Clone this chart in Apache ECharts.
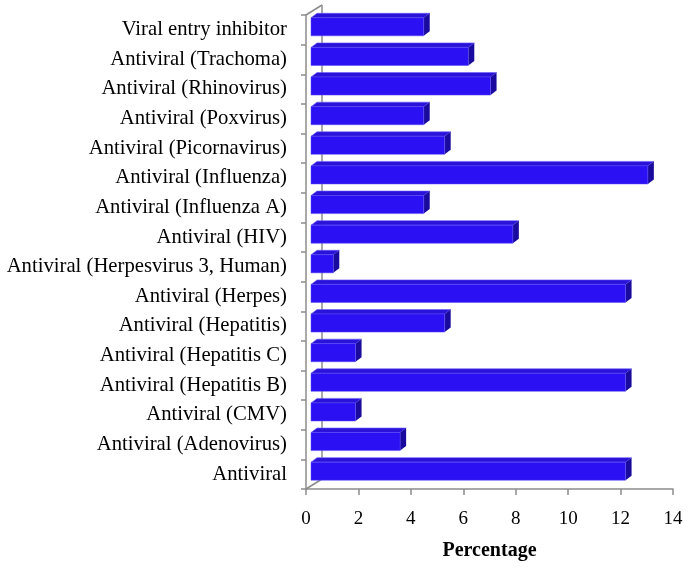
<!DOCTYPE html>
<html>
<head>
<meta charset="utf-8">
<script src="https://cdn.jsdelivr.net/npm/echarts@6/dist/echarts.min.js"></script>
<style>
  html, body { margin: 0; padding: 0; background: #fff; }
  #chart { width: 688px; height: 573px; }
</style>
</head>
<body>
<div id="chart"></div>
<script>
// categories listed bottom -> top
const categories = [
  'Antiviral',
  'Antiviral (Adenovirus)',
  'Antiviral (CMV)',
  'Antiviral (Hepatitis B)',
  'Antiviral (Hepatitis C)',
  'Antiviral (Hepatitis)',
  'Antiviral (Herpes)',
  'Antiviral (Herpesvirus 3, Human)',
  'Antiviral (HIV)',
  'Antiviral (Influenza A)',
  'Antiviral (Influenza)',
  'Antiviral (Picornavirus)',
  'Antiviral (Poxvirus)',
  'Antiviral (Rhinovirus)',
  'Antiviral (Trachoma)',
  'Viral entry inhibitor'
]
const percentages = [12.0, 3.4, 1.7, 12.0, 1.7, 5.1, 12.0, 0.85, 7.7, 4.3, 12.85, 5.1, 4.3, 6.85, 6.0, 4.3]
const xTicks = [0, 2, 4, 6, 8, 10, 12, 14]

const FONT = "'Liberation Serif', 'Times New Roman', serif"
const GRAY = '#8c8c8c'

const chart = echarts.init(document.getElementById('chart'))

// 3d look: front face shifted a bit into the depth, then top + side faces
function renderBar(params, api) {
  const idx = api.value(1)
  const start = api.coord([0, idx])
  const end = api.coord([api.value(0), idx])
  const h = api.size([0, 1])[1] * 0.61
  const fx = 5, fy = -3 // front plane offset
  const dx = 6, dy = -4.5 // bar depth
  const x0 = start[0] + fx
  const x1 = end[0] + fx
  const cy = start[1] + fy
  const top = cy - h / 2
  const bot = cy + h / 2
  return {
    type: 'group',
    children: [
      {
        type: 'polygon',
        shape: { points: [[x0, top], [x1, top], [x1 + dx, top + dy], [x0 + dx, top + dy]] },
        style: { fill: '#2a12d8', stroke: '#6a5cff', lineWidth: 0.6 }
      },
      {
        type: 'polygon',
        shape: { points: [[x1, top], [x1 + dx, top + dy], [x1 + dx, bot + dy], [x1, bot]] },
        style: { fill: '#1a0b9e' }
      },
      {
        type: 'rect',
        shape: { x: x0, y: top, width: x1 - x0, height: h },
        style: { fill: '#2a10f2', stroke: '#5a4cf5', lineWidth: 0.5 }
      }
    ]
  }
}

// back wall + floor edges
function renderFrame(params, api) {
  const cs = params.coordSys
  const wx = 16, wy = -10
  const lineStyle = { stroke: GRAY, lineWidth: 1.5 }
  return {
    type: 'group',
    children: [
      { type: 'line', shape: { x1: cs.x + wx, y1: cs.y + wy, x2: cs.x + wx, y2: cs.y + cs.height + wy }, style: lineStyle },
      { type: 'line', shape: { x1: cs.x, y1: cs.y, x2: cs.x + wx, y2: cs.y + wy }, style: lineStyle },
      { type: 'line', shape: { x1: cs.x, y1: cs.y + cs.height, x2: cs.x + wx, y2: cs.y + cs.height + wy }, style: lineStyle }
    ]
  }
}

chart.setOption({
  animation: false,
  grid: {
    left: 306,
    right: 15,
    top: 15,
    bottom: 84
  },
  xAxis: {
    type: 'value',
    min: xTicks[0],
    max: xTicks[xTicks.length - 1],
    interval: 2,
    splitLine: { show: false },
    axisLine: { show: true, lineStyle: { color: GRAY, width: 1.5 } },
    axisTick: { show: true, length: 6, lineStyle: { color: GRAY, width: 1.5 } },
    axisLabel: { color: '#000', fontFamily: FONT, fontSize: 19, margin: 21 },
    name: 'Percentage',
    nameLocation: 'middle',
    nameGap: 52,
    nameTextStyle: { color: '#000', fontFamily: FONT, fontSize: 20, fontWeight: 'bold' }
  },
  yAxis: {
    type: 'category',
    data: categories,
    axisLine: { show: true, lineStyle: { color: GRAY, width: 1.5 } },
    axisTick: { show: true, length: 5, lineStyle: { color: GRAY, width: 1.5 } },
    axisLabel: { color: '#000', fontFamily: FONT, fontSize: 20.7, margin: 19 },
    splitLine: { show: false }
  },
  series: [
    {
      type: 'custom',
      renderItem: renderFrame,
      data: [[0, 0]],
      encode: { x: 0, y: 1 },
      silent: true,
      z: 1
    },
    {
      type: 'custom',
      renderItem: renderBar,
      data: percentages.map((v, i) => [v, i]),
      encode: { x: 0, y: 1 },
      z: 2
    }
  ]
})
</script>
</body>
</html>
